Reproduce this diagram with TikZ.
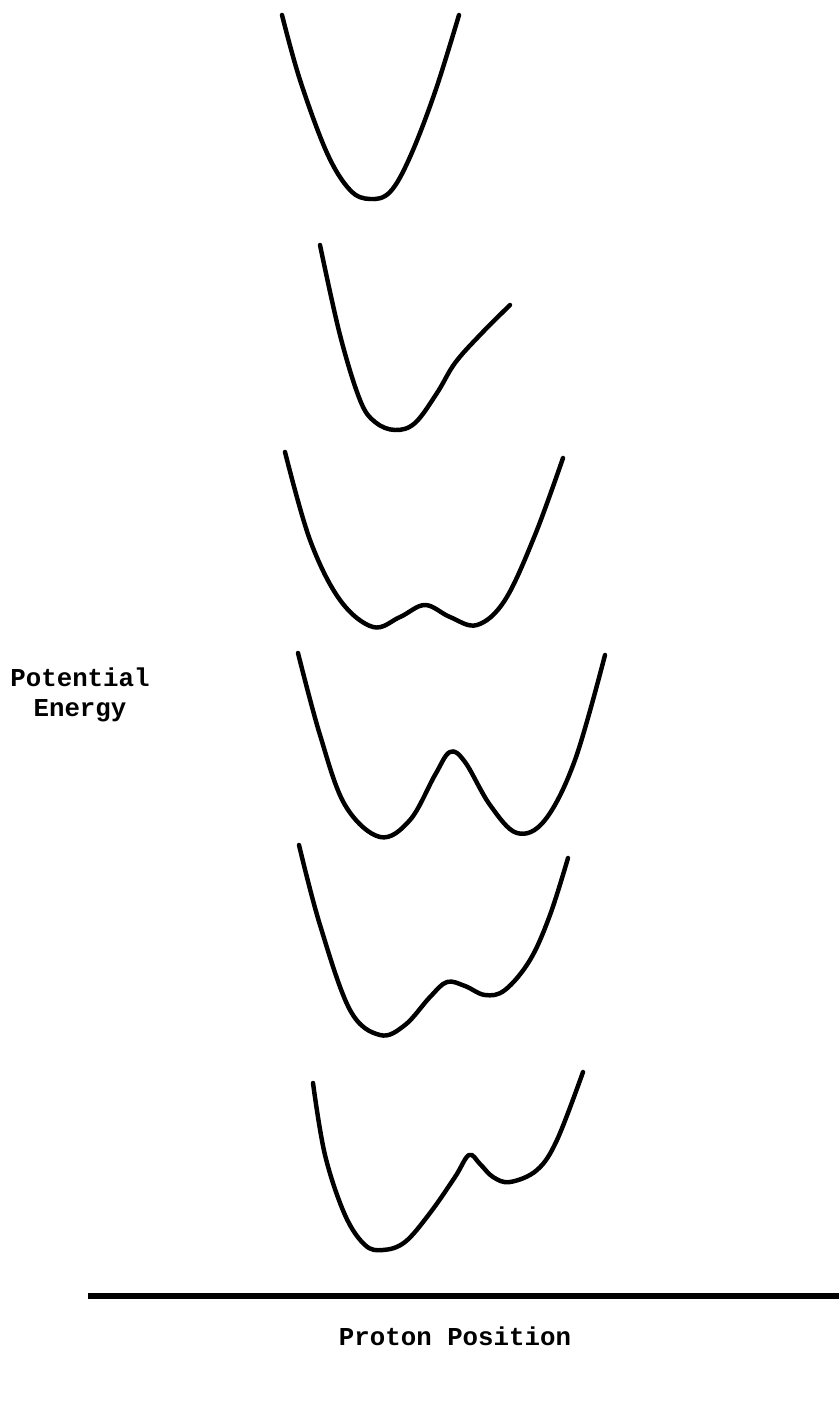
\documentclass[tikz,border=0pt]{standalone}
\usepackage{fontspec}
\setmainfont{Liberation Mono}
\usepackage{tikz}

\begin{document}
\begin{tikzpicture}[x=0.03cm, y=-0.03cm,
    curve/.style={line width=3.8pt, line cap=round, line join=round},
    lbl/.style={font=\fontsize{22}{25}\selectfont\bfseries, align=center, inner sep=0pt}]
  \useasboundingbox (0,0) rectangle (839,1412);
  % single well
  \draw[curve] plot[smooth, tension=0.6] coordinates {(282,15) (300,80) (327,153) (350,190)
    (370,199) (390,192) (410,157) (435,92) (459,15)};
  % asymmetric single well
  \draw[curve] plot[smooth, tension=0.6] coordinates {(320,245) (340,335) (360,400) (375,422)
    (395,430) (415,423) (437,393) (455,363) (480,335) (510,305)};
  % low barrier
  \draw[curve] plot[smooth, tension=0.6] coordinates {(285,452) (310,540) (340,600) (373,627)
    (400,617) (425,605) (450,617) (477,625) (505,600) (535,535) (563,458)};
  % high barrier
  \draw[curve] plot[smooth, tension=0.6] coordinates {(298,653) (320,735) (345,805) (380,837)
    (410,820) (435,775) (450,752) (465,762) (490,805) (517,833) (545,820) (575,760) (605,655)};
  % asymmetric double well
  \draw[curve] plot[smooth, tension=0.6] coordinates {(299,845) (320,925) (350,1010) (380,1035)
    (405,1025) (430,997) (447,982) (465,986) (485,995) (505,990) (530,960) (550,915) (568,858)};
  % strongly asymmetric double well
  \draw[curve] plot[smooth, tension=0.6] coordinates {(313,1083) (325,1155) (345,1215) (365,1245)
    (383,1250) (405,1242) (430,1213) (455,1177) (469,1155) (480,1164) (493,1177) (510,1182)
    (537,1170) (557,1140) (583,1072)};
  % axis
  \coordinate (axisL) at (88,1296);
  \coordinate (axisR) at (839,1296);
  \draw[line width=5pt] (axisL) -- (axisR);
  \node[lbl] (energy) at (80,695) {Potential\\Energy};
  \node[lbl] (position) at (455,1336) {Proton Position};
\end{tikzpicture}
\end{document}
